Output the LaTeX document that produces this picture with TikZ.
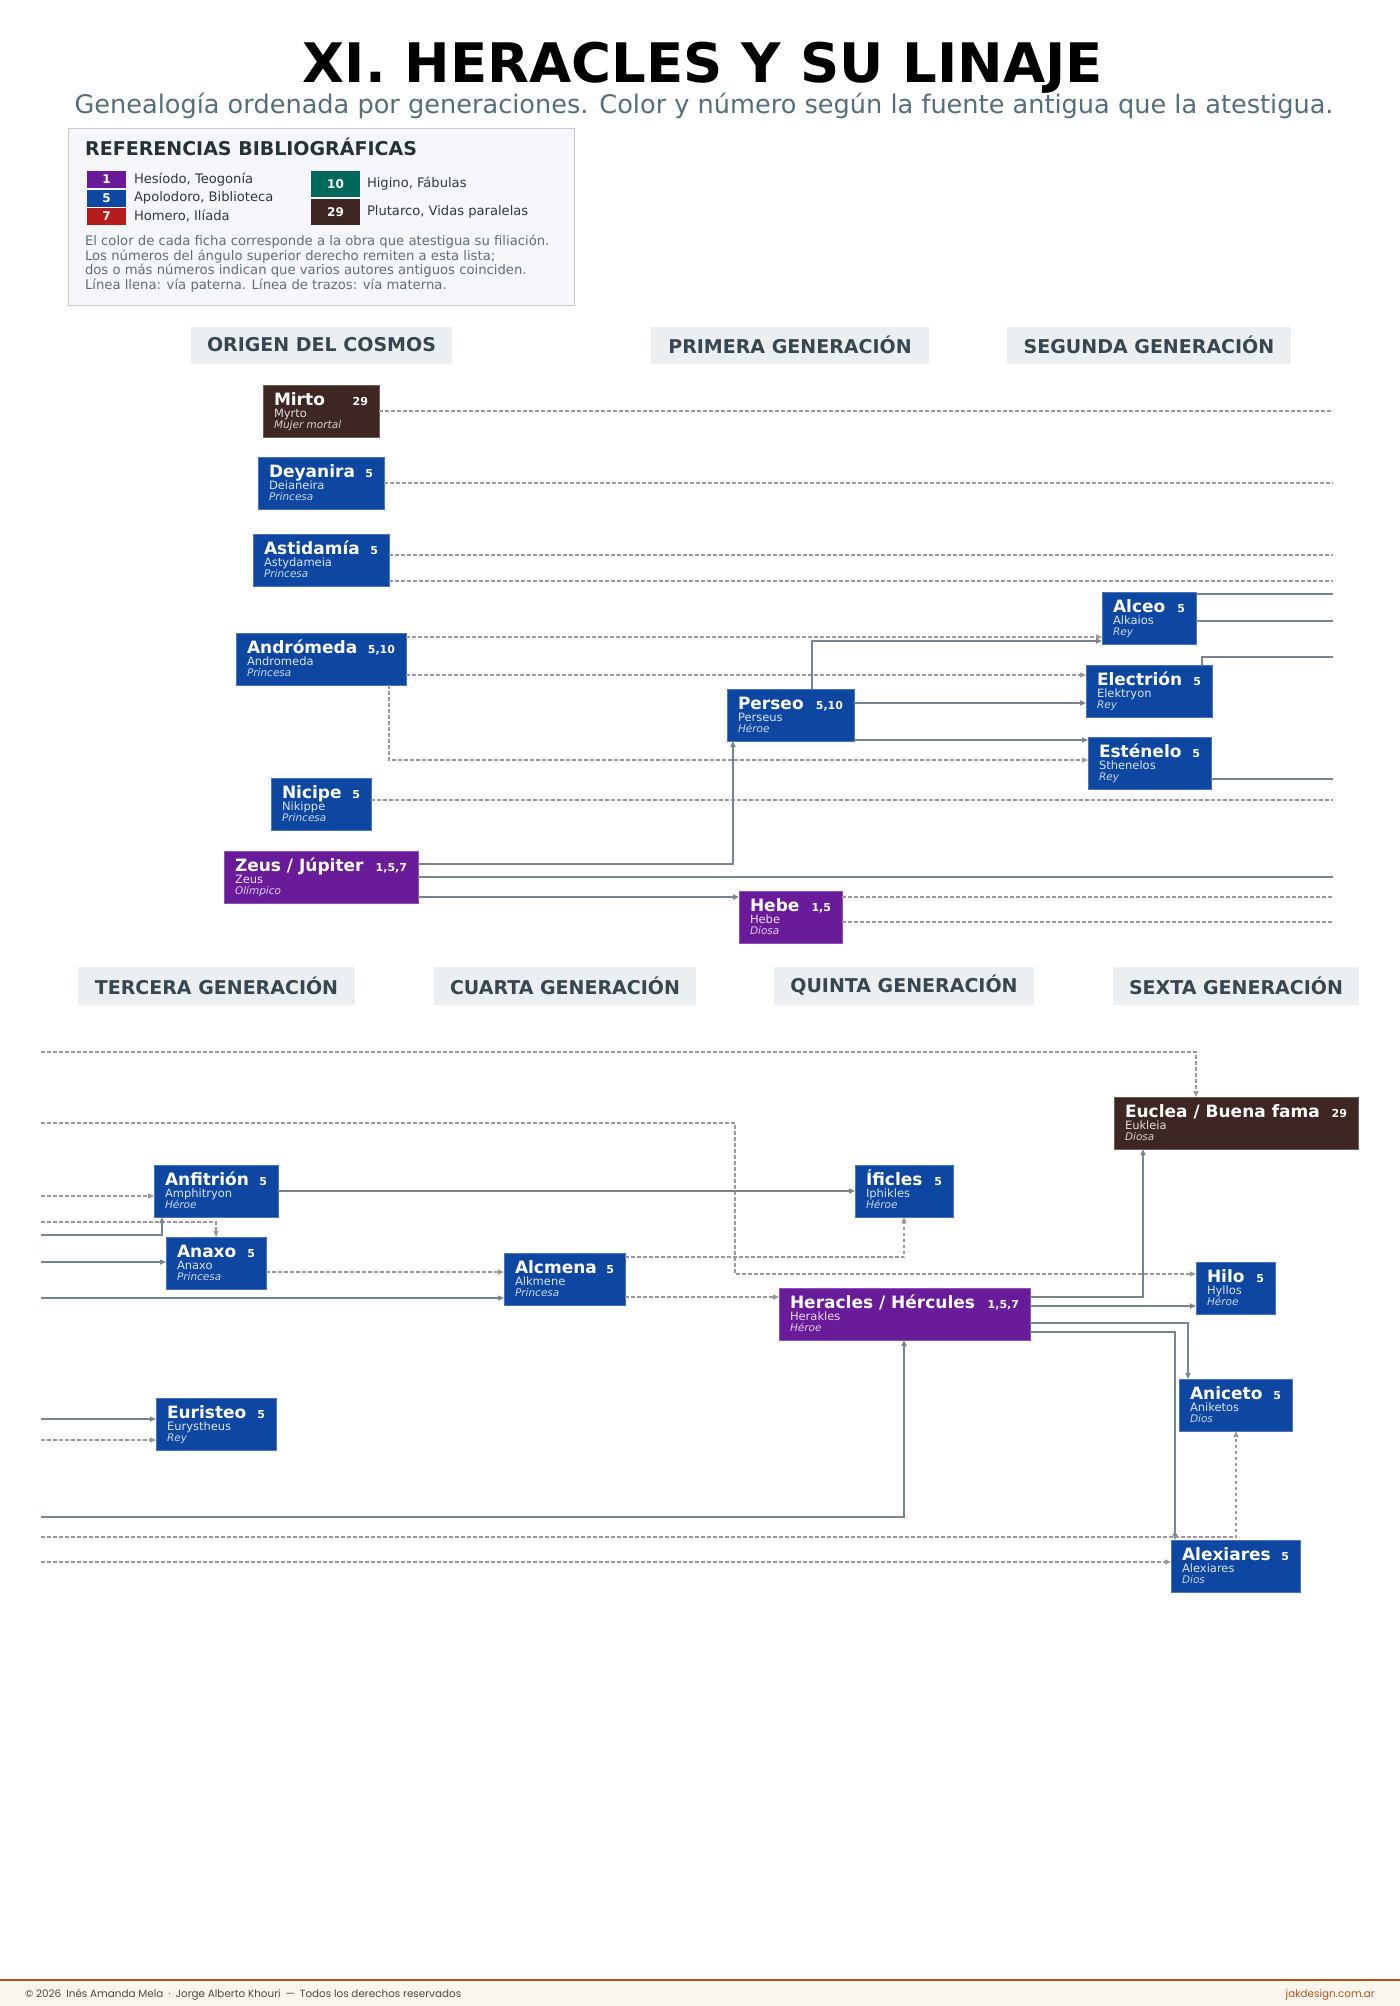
\documentclass[tikz,border=0pt]{standalone}
\usepackage{fontspec}
\setmainfont{DejaVu Sans}
\newfontfamily\popfont{Poppins}
\usetikzlibrary{arrows.meta,calc}

\definecolor{cblue}{HTML}{0D47A1}
\definecolor{cpurple}{HTML}{6A1B9A}
\definecolor{cbrown}{HTML}{3E2723}
\definecolor{cteal}{HTML}{00695C}
\definecolor{cred}{HTML}{B71C1C}
\definecolor{cline}{HTML}{78858C}
\definecolor{cdash}{HTML}{A0979C}
\definecolor{chead}{HTML}{ECEFF1}
\definecolor{cheadtxt}{HTML}{37474F}
\definecolor{csub}{HTML}{546E7A}
\definecolor{clegbg}{HTML}{F5F7FA}
\definecolor{clegbd}{HTML}{C5CBD0}
\definecolor{clegtitle}{HTML}{263238}
\definecolor{clegtxt}{HTML}{2E3A40}
\definecolor{cnote}{HTML}{5F6F78}
\definecolor{cfoot}{HTML}{B5541C}
\definecolor{cfootbg}{HTML}{FAF6EE}
\definecolor{cfoottxt}{HTML}{4A4A4A}

\tikzset{
  pbox/.style={rectangle, inner sep=0pt, outer sep=0pt, minimum height=52pt},
  ptxt/.style={inner sep=0pt, outer sep=0pt},
  pname/.style={ptxt, text=white, font=\bfseries\fontsize{17}{20}\selectfont},
  pnum/.style={ptxt, text=white, font=\bfseries\fontsize{11}{13}\selectfont},
  psub/.style={ptxt, font=\fontsize{11.5}{13}\selectfont},
  prole/.style={ptxt, font=\itshape\fontsize{10.5}{12}\selectfont},
  hdr/.style={rectangle, fill=chead, inner sep=0pt, outer sep=0pt, text=cheadtxt,
     font=\bfseries\fontsize{19}{22}\selectfont},
  swatch/.style={rectangle, inner sep=0pt, outer sep=0pt, text=white,
     font=\bfseries\fontsize{12}{14}\selectfont, anchor=north west},
  legtxt/.style={inner sep=0pt, outer sep=0pt, anchor=west, text=clegtxt,
     font=\fontsize{13.1}{15}\selectfont},
  note/.style={inner sep=0pt, outer sep=0pt, anchor=base west, text=cnote,
     font=\fontsize{13.2}{15}\selectfont},
  pline/.style={draw=cline, line width=1.5pt},
  mline/.style={draw=cdash, line width=1.3pt, dash pattern=on 3.5pt off 2.5pt},
  tip/.style={-{Triangle[length=6pt,width=5pt]}},
}

% id, x, y (top left), width, colour, name, numbers, greek name, role
\newcommand{\persona}[9]{%
  \node[pbox, fill=#5, draw=#5!75!white, line width=0.8pt, minimum width=#4pt, anchor=north west] (#1) at (#2,#3) {};
  \node[pname, anchor=base west] (#1-n) at ($(#1.north west)+(11,20)$) {#6};
  \node[pnum, anchor=base east] (#1-r) at ($(#1.north east)+(-11,20)$) {#7};
  \node[psub, text=white!85!#5, anchor=base west] (#1-s) at ($(#1.north west)+(11,32)$) {#8};
  \node[prole, text=white!78!#5, anchor=base west] (#1-o) at ($(#1.north west)+(11,43)$) {#9};
}

\begin{document}
\begin{tikzpicture}[x=1pt,y=-1pt]
\useasboundingbox (0,0) rectangle (1400,2006);
\fill[white] (0,0) rectangle (1400,2006);

% ---------- title ----------
\node[inner sep=0pt, anchor=base, text=black, font=\bfseries\fontsize{54.5}{60}\selectfont] (title) at (703,82) {XI. HERACLES Y SU LINAJE};
\node[inner sep=0pt, anchor=base, text=csub, font=\fontsize{25.6}{30}\selectfont] (subtitle) at (704,113) {Genealogía ordenada por generaciones. Color y número según la fuente antigua que la atestigua.};

% ---------- legend ----------
\node[rectangle, fill=clegbg, draw=clegbd, line width=1pt, inner sep=0pt, minimum width=506pt, minimum height=177pt, anchor=north west] (legend) at (68,128) {};
\node[inner sep=0pt, anchor=base west, text=clegtitle, font=\bfseries\fontsize{19}{22}\selectfont] (legtitle) at (85,155) {REFERENCIAS BIBLIOGRÁFICAS};
\node[swatch, fill=cpurple, minimum width=39pt, minimum height=17pt] (sw1) at (87,171) {1};
\node[swatch, fill=cblue, minimum width=39pt, minimum height=17pt] (sw5) at (87,189.5) {5};
\node[swatch, fill=cred, minimum width=39pt, minimum height=17pt] (sw7) at (87,208) {7};
\node[swatch, fill=cteal, minimum width=49pt, minimum height=26pt] (sw10) at (311,171) {10};
\node[swatch, fill=cbrown, minimum width=49pt, minimum height=26pt] (sw29) at (311,199) {29};
\node[legtxt] (lg1) at (134,179.5) {Hesíodo, Teogonía};
\node[legtxt] (lg5) at (134,198) {Apolodoro, Biblioteca};
\node[legtxt] (lg7) at (134,216.5) {Homero, Ilíada};
\node[legtxt] (lg10) at (367,184) {Higino, Fábulas};
\node[legtxt] (lg29) at (367,212) {Plutarco, Vidas paralelas};
\node[note] (n1) at (85,245) {El color de cada ficha corresponde a la obra que atestigua su filiación.};
\node[note] (n2) at (85,260) {Los números del ángulo superior derecho remiten a esta lista;};
\node[note] (n3) at (85,274.5) {dos o más números indican que varios autores antiguos coinciden.};
\node[note] (n4) at (85,289) {Línea llena: vía paterna. Línea de trazos: vía materna.};

% ---------- generation headers ----------
\node[hdr, minimum width=261pt, minimum height=37pt] (h0) at (321.5,345) {ORIGEN DEL COSMOS};
\node[hdr, minimum width=278pt, minimum height=37pt] (h1) at (790,345) {PRIMERA GENERACIÓN};
\node[hdr, minimum width=284pt, minimum height=37pt] (h2) at (1149,345) {SEGUNDA GENERACIÓN};
\node[hdr, minimum width=277pt, minimum height=38pt] (h3) at (216.5,985.5) {TERCERA GENERACIÓN};
\node[hdr, minimum width=262pt, minimum height=38pt] (h4) at (565,985.5) {CUARTA GENERACIÓN};
\node[hdr, minimum width=260pt, minimum height=38pt] (h5) at (904,985.5) {QUINTA GENERACIÓN};
\node[hdr, minimum width=246pt, minimum height=38pt] (h6) at (1236,985.5) {SEXTA GENERACIÓN};

% ---------- persons: first band ----------
\persona{mirto}{263}{385}{116}{cbrown}{Mirto}{29}{Myrto}{Mujer mortal}
\persona{dey}{258}{457}{126}{cblue}{Deyanira}{5}{Deianeira}{Princesa}
\persona{ast}{253}{534}{136}{cblue}{Astidamía}{5}{Astydameia}{Princesa}
\persona{andr}{236}{633}{170}{cblue}{Andrómeda}{5,10}{Andromeda}{Princesa}
\persona{nic}{271}{778}{100}{cblue}{Nicipe}{5}{Nikippe}{Princesa}
\persona{zeus}{224}{851}{194}{cpurple}{Zeus / Júpiter}{1,5,7}{Zeus}{Olímpico}
\persona{per}{727}{689}{127}{cblue}{Perseo}{5,10}{Perseus}{Héroe}
\persona{hebe}{739}{891}{103}{cpurple}{Hebe}{1,5}{Hebe}{Diosa}
\persona{alc}{1102}{592}{94}{cblue}{Alceo}{5}{Alkaios}{Rey}
\persona{ele}{1086}{665}{126}{cblue}{Electrión}{5}{Elektryon}{Rey}
\persona{ste}{1088}{737}{123}{cblue}{Esténelo}{5}{Sthenelos}{Rey}

% ---------- persons: second band ----------
\persona{anf}{154}{1165}{124}{cblue}{Anfitrión}{5}{Amphitryon}{Héroe}
\persona{anx}{166}{1237}{100}{cblue}{Anaxo}{5}{Anaxo}{Princesa}
\persona{alm}{504}{1253}{121}{cblue}{Alcmena}{5}{Alkmene}{Princesa}
\persona{eur}{156}{1398}{120}{cblue}{Euristeo}{5}{Eurystheus}{Rey}
\persona{ifi}{855}{1165}{98}{cblue}{Íficles}{5}{Iphikles}{Héroe}
\persona{her}{779}{1288}{251}{cpurple}{Heracles / Hércules}{1,5,7}{Herakles}{Héroe}
\persona{euc}{1114}{1097}{244}{cbrown}{Euclea / Buena fama}{29}{Eukleia}{Diosa}
\persona{hil}{1196}{1262}{79}{cblue}{Hilo}{5}{Hyllos}{Héroe}
\persona{ani}{1179}{1379}{113}{cblue}{Aniceto}{5}{Aniketos}{Dios}
\persona{alx}{1171}{1540}{129}{cblue}{Alexiares}{5}{Alexiares}{Dios}

% ---------- free ends: right edge of first band ----------
\coordinate (rMir) at (1333,411);
\coordinate (rDey) at (1333,483);
\coordinate (rAst1) at (1333,555);
\coordinate (rAst2) at (1333,581);
\coordinate (rAlc1) at (1333,594);
\coordinate (rAlc2) at (1333,621);
\coordinate (rEle) at (1333,657);
\coordinate (rSte) at (1333,779);
\coordinate (rNic) at (1333,800);
\coordinate (rZeu) at (1333,877);
\coordinate (rHeb1) at (1333,897);
\coordinate (rHeb2) at (1333,922);

% ---------- free ends: left edge of second band ----------
\coordinate (lMir) at (41,1052);
\coordinate (lDey) at (41,1123);
\coordinate (lAst1) at (41,1196);
\coordinate (lAst2) at (41,1222);
\coordinate (lAlc1) at (41,1235);
\coordinate (lAlc2) at (41,1262);
\coordinate (lEle) at (41,1298);
\coordinate (lSte) at (41,1419);
\coordinate (lNic) at (41,1440);
\coordinate (lZeu) at (41,1517);
\coordinate (lHeb1) at (41,1537);
\coordinate (lHeb2) at (41,1562);

% ---------- connectors: first band ----------
\draw[mline] (mirto.east) -- (rMir);
\draw[mline] (dey.east) -- (rDey);
\draw[mline] ($(ast.north east)+(0,21)$) -- (rAst1);
\draw[mline] ($(ast.north east)+(0,47)$) -- (rAst2);
\draw[mline, tip] ($(andr.north east)+(0,4)$) -- ($(alc.north west)+(0,45)$);
\draw[mline, tip] ($(andr.north east)+(0,42)$) -- ($(ele.north west)+(0,10)$);
\draw[mline, tip] ($(andr.south east)+(-17,0)$) |- ($(ste.north west)+(0,23)$);
\draw[pline, tip] ($(per.north west)+(85,0)$) |- ($(alc.north west)+(0,49)$);
\draw[pline, tip] ($(per.north east)+(0,14)$) -- ($(ele.north west)+(0,38)$);
\draw[pline, tip] ($(per.north east)+(0,51)$) -- ($(ste.north west)+(0,3)$);
\draw[pline] ($(alc.north east)+(0,2)$) -- (rAlc1);
\draw[pline] ($(alc.north east)+(0,29)$) -- (rAlc2);
\draw[pline] ($(ele.north east)+(-10,0)$) |- (rEle);
\draw[pline] ($(ste.north east)+(0,42)$) -- (rSte);
\draw[mline] ($(nic.north east)+(0,22)$) -- (rNic);
\draw[pline, tip] ($(zeus.north east)+(0,13)$) -| ($(per.south west)+(6,0)$);
\draw[pline] ($(zeus.north east)+(0,26)$) -- (rZeu);
\draw[pline, tip] ($(zeus.north east)+(0,46)$) -- ($(hebe.north west)+(0,6)$);
\draw[mline] ($(hebe.north east)+(0,6)$) -- (rHeb1);
\draw[mline] ($(hebe.north east)+(0,31)$) -- (rHeb2);

% ---------- connectors: second band ----------
\draw[mline, tip] (lMir) -| ($(euc.north west)+(82,0)$);
\draw[mline, tip] (lDey) -- (735,1123) |- ($(hil.north west)+(0,12)$);
\draw[mline, tip] (lAst1) -- ($(anf.north west)+(0,31)$);
\draw[mline, tip] (lAst2) -| ($(anx.north west)+(50,0)$);
\draw[pline, tip] (lAlc1) -| ($(anf.south west)+(8,0)$);
\draw[pline, tip] (lAlc2) -- ($(anx.north west)+(0,25)$);
\draw[pline, tip] (lEle) -- ($(alm.north west)+(0,45)$);
\draw[pline, tip] ($(anf.north east)+(0,26)$) -- ($(ifi.north west)+(0,26)$);
\draw[mline, tip] ($(anx.north east)+(0,35)$) -- ($(alm.north west)+(0,19)$);
\draw[mline, tip] ($(alm.north east)+(0,4)$) -| ($(ifi.south west)+(49,0)$);
\draw[mline, tip] ($(alm.north east)+(0,44)$) -- ($(her.north west)+(0,9)$);
\draw[pline, tip] ($(her.north east)+(0,9)$) -| ($(euc.south west)+(29,0)$);
\draw[pline, tip] ($(her.north east)+(0,18)$) -- ($(hil.north west)+(0,44)$);
\draw[pline, tip] ($(her.north east)+(0,35)$) -| ($(ani.north west)+(9,0)$);
\draw[pline, tip] ($(her.north east)+(0,44)$) -| ($(alx.north west)+(4,0)$);
\draw[pline, tip] (lSte) -- ($(eur.north west)+(0,21)$);
\draw[mline, tip] (lNic) -- ($(eur.north west)+(0,42)$);
\draw[pline, tip] (lZeu) -| ($(her.south west)+(125,0)$);
\draw[mline, tip] (lHeb1) -| ($(ani.south west)+(57,0)$);
\draw[mline, tip] (lHeb2) -- ($(alx.north west)+(0,22)$);

% ---------- footer ----------
\fill[cfootbg] (0,1981) rectangle (1400,2006);
\draw[cfoot, line width=2pt] (0,1980) -- (1400,1980);
\node[inner sep=0pt, anchor=base west, text=cfoottxt, font=\popfont\fontsize{10.4}{12}\selectfont] (foot) at (25,1997) {© 2026\hspace{5pt}Inés Amanda Mela\hspace{5pt}·\hspace{5pt}Jorge Alberto Khouri\hspace{5pt}—\hspace{5pt}Todos los derechos reservados};
\node[inner sep=0pt, anchor=base east, text=cfoot, font=\popfont\fontsize{10.4}{12}\selectfont] (web) at (1375,1997) {jakdesign.com.ar};
\end{tikzpicture}
\end{document}
